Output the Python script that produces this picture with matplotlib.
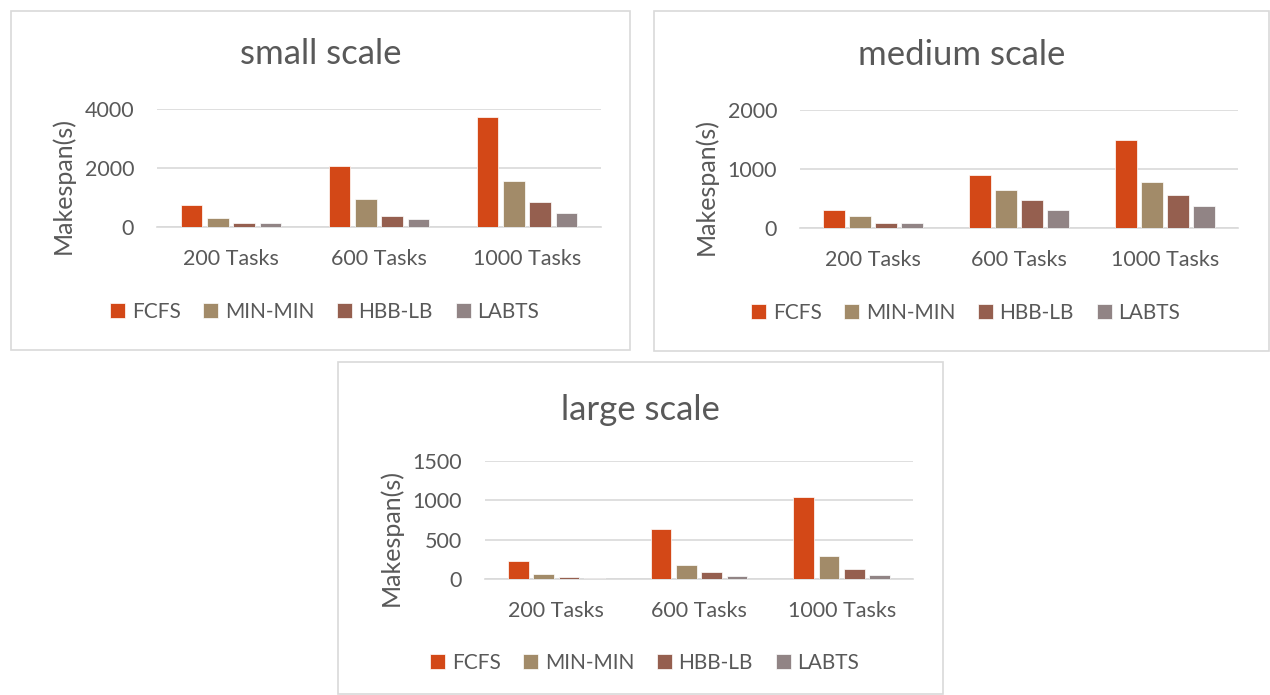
import matplotlib
matplotlib.use("Agg")
import matplotlib.pyplot as plt
import numpy as np
from matplotlib.patches import Rectangle

plt.rcParams['font.family'] = ['Lato', 'DejaVu Sans']

categories = ["200 Tasks", "600 Tasks", "1000 Tasks"]
series = ["FCFS", "MIN-MIN", "HBB-LB", "LABTS"]
colors = ["#D34817", "#A28B69", "#955F4F", "#918485"]

small_fcfs = [750, 2070, 3740]
small_minmin = [315, 950, 1570]
small_hbblb = [150, 375, 860]
small_labts = [125, 280, 460]

medium_fcfs = [312, 898, 1500]
medium_minmin = [205, 636, 773]
medium_hbblb = [91, 477, 557]
medium_labts = [80, 312, 369]

large_fcfs = [225, 636, 1038]
large_minmin = [59, 178, 297]
large_hbblb = [30, 93, 127]
large_labts = [17, 38, 51]

titles = ["small scale", "medium scale", "large scale"]
yticks_list = [[0, 2000, 4000], [0, 1000, 2000], [0, 500, 1000, 1500]]
ylims = [4000, 2000, 1500]

W, H = 1270, 695
fig = plt.figure(figsize=(W / 100, H / 100), dpi=100)

# panel frames (px): x0, y0, x1, y1
panels = [(11, 11, 630, 350), (654, 11, 1269, 351), (338, 362, 943, 694)]
# plot area (px): x0, ytop, x1, ybottom
areas = [(157, 109, 601, 227), (800, 110, 1238, 228), (485, 461, 913, 579)]
title_y = [54, 55, 410]
legend_y = [312, 313, 663]
legend_dx = [4, 4, 4]

data = [
    [small_fcfs, small_minmin, small_hbblb, small_labts],
    [medium_fcfs, medium_minmin, medium_hbblb, medium_labts],
    [large_fcfs, large_minmin, large_hbblb, large_labts],
]

for p in range(3):
    px0, py0, px1, py1 = panels[p]
    fig.patches.append(Rectangle((px0 / W, 1 - py1 / H), (px1 - px0) / W, (py1 - py0) / H,
                                 transform=fig.transFigure, fill=False,
                                 edgecolor="#D9D9D9", linewidth=1.2, zorder=-1))
    ax0, ay0, ax1, ay1 = areas[p]
    ax = fig.add_axes([ax0 / W, 1 - ay1 / H, (ax1 - ax0) / W, (ay1 - ay0) / H])
    ax.set_facecolor("none")
    x = np.arange(len(categories))
    width = 0.145
    step = 0.178
    for i, (vals, c) in enumerate(zip(data[p], colors)):
        ax.bar(x + (i - 1.5) * step, vals, width=width, color=c, label=series[i],
               edgecolor="white", linewidth=0.5, zorder=3)
    ax.set_xlim(-0.5, 2.5)
    ax.set_ylim(0, ylims[p])
    ax.set_yticks(yticks_list[p])
    ax.set_xticks(x)
    ax.set_xticklabels(categories)
    ax.grid(axis='y', color="#D9D9D9", linewidth=1.2, zorder=0)
    for s in ["top", "right", "left"]:
        ax.spines[s].set_visible(False)
    ax.spines["bottom"].set_color("#D9D9D9")
    ax.spines["bottom"].set_linewidth(1.2)
    ax.tick_params(axis='both', length=0, labelsize=15.5, labelcolor="#595959")
    ax.tick_params(axis='y', pad=16.5)
    ax.tick_params(axis='x', pad=16)
    fig.text((px0 + px1) / 2 / W, 1 - title_y[p] / H, titles[p], ha="center", va="center",
             fontsize=25, color="#595959")
    fig.text((ax0 - 94) / W, 1 - ((ay0 + ay1) / 2 + 18) / H, "Makespan(s)", rotation=90,
             ha="center", va="center", fontsize=18, color="#595959")
    handles, labels = ax.get_legend_handles_labels()
    fig.legend(handles, labels, loc="center", ncol=4,
               bbox_to_anchor=(((px0 + px1) / 2 + legend_dx[p]) / W, 1 - legend_y[p] / H),
               frameon=False, fontsize=15, labelcolor="#595959",
               handlelength=0.72, handleheight=0.72, handletextpad=0.3, columnspacing=1.1)

fig.savefig("out.png", dpi=100, facecolor="white")
